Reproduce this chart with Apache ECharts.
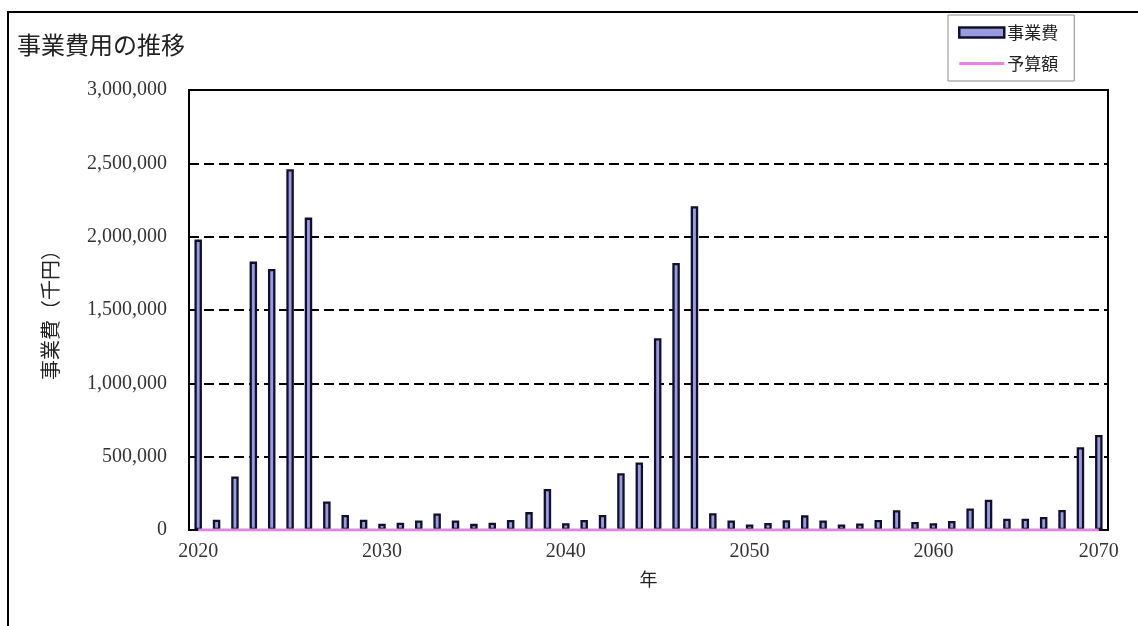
<!DOCTYPE html>
<html>
<head>
<meta charset="utf-8">
<script src="https://cdn.jsdelivr.net/npm/echarts@6/dist/echarts.min.js"></script>
<style>
  html, body { margin: 0; padding: 0; background: #ffffff; }
  #chart { width: 1138px; height: 626px; }
</style>
</head>
<body>
<div id="chart"></div>
<script>
// 年度（カテゴリ）
const years = [
  '2020','2021','2022','2023','2024','2025','2026','2027','2028','2029',
  '2030','2031','2032','2033','2034','2035','2036','2037','2038','2039',
  '2040','2041','2042','2043','2044','2045','2046','2047','2048','2049',
  '2050','2051','2052','2053','2054','2055','2056','2057','2058','2059',
  '2060','2061','2062','2063','2064','2065','2066','2067','2068','2069'
];

// 事業費（千円）
const jigyohi = [
  1980000,   70000,  365000, 1830000, 1780000, 2460000, 2130000,  195000,  102000,   70000,
    43000,   50000,   65000,  112000,   65000,   42000,   50000,   68000,  122000,  280000,
    46000,   68000,  102000,  387000,  460000, 1308000, 1820000, 2207000,  114000,   65000,
    38000,   48000,   66000,  100000,   65000,   38000,   45000,   68000,  135000,   55000,
    46000,   61000,  147000,  207000,   77000,   77000,   89000,  137000,  564000,  648000
];

// 予算額（千円）
const yosangaku = [
  0,0,0,0,0,0,0,0,0,0,
  0,0,0,0,0,0,0,0,0,0,
  0,0,0,0,0,0,0,0,0,0,
  0,0,0,0,0,0,0,0,0,0,
  0,0,0,0,0,0,0,0,0,0
];

// 横軸の目盛りラベル（位置と表示文字）
const xTickIndex = [0, 10, 20, 30, 40, 49];
const xTickText  = ['2020', '2030', '2040', '2050', '2060', '2070'];

// 縦軸の範囲と目盛り間隔
const yMin = 0;
const yMax = 3000000;
const yStep = 500000;

const chart = echarts.init(document.getElementById('chart'), null, { renderer: 'canvas' });

const jpFont = '"Noto Sans CJK JP", "Noto Sans", sans-serif';
const numFont = '"Liberation Serif", "DejaVu Serif", serif';

function withCommas(v) {
  return String(v).replace(/\B(?=(\d{3})+(?!\d))/g, ',');
}

chart.setOption({
  animation: false,
  backgroundColor: '#ffffff',
  title: {
    text: '事業費用の推移',
    left: 17,
    top: 33,
    padding: 0,
    textStyle: { fontFamily: jpFont, fontSize: 24, fontWeight: 'normal', color: '#222' }
  },
  legend: {
    orient: 'vertical',
    left: 948,
    top: 15,
    padding: [9, 16, 9, 10],
    itemGap: 14,
    itemWidth: 45,
    itemHeight: 10,
    borderColor: '#8a8a8a',
    borderWidth: 1,
    textStyle: { fontFamily: jpFont, fontSize: 17, color: '#222', padding: [0, 0, 0, -2] },
    data: [
      { name: '事業費', icon: 'rect', itemStyle: { color: '#9a9ade', borderColor: '#10102e', borderWidth: 2.5 } },
      { name: '予算額', icon: 'path://M0,0 L45,0 L45,3 L0,3 Z', itemStyle: { color: '#dd88dd', borderWidth: 0 } }
    ]
  },
  grid: {
    left: 189,
    top: 90,
    width: 919,
    height: 440,
    show: true,
    borderColor: '#000',
    borderWidth: 2,
    backgroundColor: '#ffffff'
  },
  xAxis: {
    type: 'category',
    data: years,
    boundaryGap: true,
    name: '年',
    nameLocation: 'middle',
    nameGap: 40,
    nameTextStyle: { fontFamily: jpFont, fontSize: 18, color: '#222' },
    axisLine: { lineStyle: { color: '#000', width: 1 } },
    axisTick: { show: false },
    axisLabel: {
      interval: function (index) { return xTickIndex.indexOf(index) >= 0; },
      formatter: function (value, index) {
        const k = xTickIndex.indexOf(index);
        return k >= 0 ? xTickText[k] : '';
      },
      margin: 12,
      fontFamily: numFont,
      fontSize: 20,
      color: '#333'
    },
    splitLine: { show: false }
  },
  yAxis: {
    type: 'value',
    min: yMin,
    max: yMax,
    interval: yStep,
    name: '事業費（千円）',
    nameLocation: 'middle',
    nameRotate: 90,
    nameGap: 129,
    nameTextStyle: { fontFamily: jpFont, fontSize: 20, color: '#222' },
    axisLine: { show: true, lineStyle: { color: '#000', width: 2 } },
    axisTick: { show: true, inside: true, length: 6, lineStyle: { color: '#000', width: 2 } },
    axisLabel: {
      margin: 22,
      fontFamily: numFont,
      fontSize: 20,
      color: '#333',
      formatter: function (v) { return withCommas(v); }
    },
    splitLine: { show: true, lineStyle: { color: '#000', width: 2, type: [10, 5] } }
  },
  series: [
    {
      name: '事業費',
      type: 'bar',
      data: jigyohi,
      barWidth: 7.5,
      itemStyle: { color: '#9a9ade', borderColor: '#10102e', borderWidth: 2.3 },
      z: 2
    },
    {
      name: '予算額',
      type: 'line',
      data: yosangaku,
      symbol: 'none',
      lineStyle: { color: '#dd88dd', width: 3 },
      itemStyle: { color: '#dd88dd' },
      z: 3
    }
  ],
  graphic: [
    {
      type: 'rect',
      silent: true,
      z: 100,
      shape: { x: 8, y: 12, width: 1400, height: 900 },
      style: { fill: 'none', stroke: '#000', lineWidth: 2 }
    }
  ]
});
</script>
</body>
</html>
